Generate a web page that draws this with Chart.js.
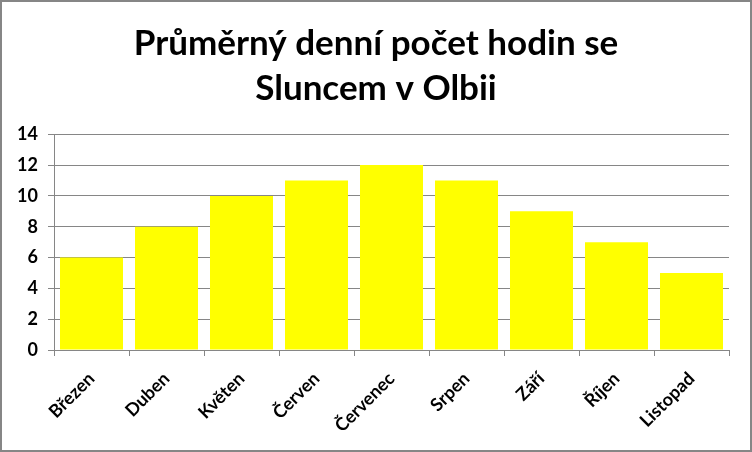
<!DOCTYPE html>
<html>
<head>
<meta charset="utf-8">
<script src="https://cdn.jsdelivr.net/npm/chart.js@4.4.0/dist/chart.umd.min.js"></script>
<style>
  html, body { margin: 0; padding: 0; background: #fff; }
  #wrap {
    width: 748px;
    height: 448px;
    border: 2px solid #868686;
    position: relative;
  }
</style>
</head>
<body>
<div id="wrap"><canvas id="sun-chart"></canvas></div>
<script>
// Monthly average of daily sunshine hours
const months = ['Březen', 'Duben', 'Květen', 'Červen', 'Červenec', 'Srpen', 'Září', 'Říjen', 'Listopad'];
const sunHours = [6, 8, 10, 11, 12, 11, 9, 7, 5];
const titleLines = ['Průměrný denní počet hodin se', 'Sluncem v Olbii'];

const axisGray = '#868686';
const fontFamily = 'Lato';

const data = {
  labels: months,
  datasets: [
    {
      label: 'Hodiny',
      data: sunHours,
      backgroundColor: '#ffff00',
      borderWidth: 0,
      categoryPercentage: 1,
      barPercentage: 0.84,
    },
  ],
};

const config = {
  type: 'bar',
  data: data,
  options: {
    responsive: true,
    maintainAspectRatio: false,
    animation: false,
    layout: {
      padding: 0,
    },
    plugins: {
      legend: { display: false },
      tooltip: { enabled: false },
      title: {
        display: true,
        text: titleLines,
        color: '#000',
        font: { family: fontFamily, size: 35, weight: 'bold', lineHeight: 1.29 },
        padding: { top: 19, bottom: 23 },
      },
    },
    scales: {
      x: {
        grid: {
          offset: true,
          drawOnChartArea: false,
          drawTicks: true,
          tickLength: 6,
          color: axisGray,
        },
        border: { color: axisGray },
        ticks: {
          color: '#000',
          minRotation: 45,
          maxRotation: 45,
          padding: 12,
          font: { family: fontFamily, size: 18, weight: 'bold' },
        },
        afterFit: (scale) => {
          scale.height = 100;
        },
      },
      y: {
        min: 0,
        max: 14,
        grid: {
          color: axisGray,
          tickLength: 6,
        },
        border: { color: axisGray },
        ticks: {
          stepSize: 2,
          color: '#000',
          padding: 10,
          font: { family: fontFamily, size: 18, weight: 'bold' },
        },
        afterFit: (scale) => {
          scale.width = 52;
        },
      },
      // empty right-hand axis: only reserves the blank margin right of the plot,
      // so the title stays centred on the whole canvas
      spacer: {
        position: 'right',
        display: true,
        grid: { display: false, drawTicks: false },
        border: { display: false },
        ticks: { display: false },
        afterFit: (scale) => {
          scale.width = 21;
        },
      },
    },
  },
};

new Chart(document.getElementById('sun-chart'), config);
</script>
</body>
</html>
